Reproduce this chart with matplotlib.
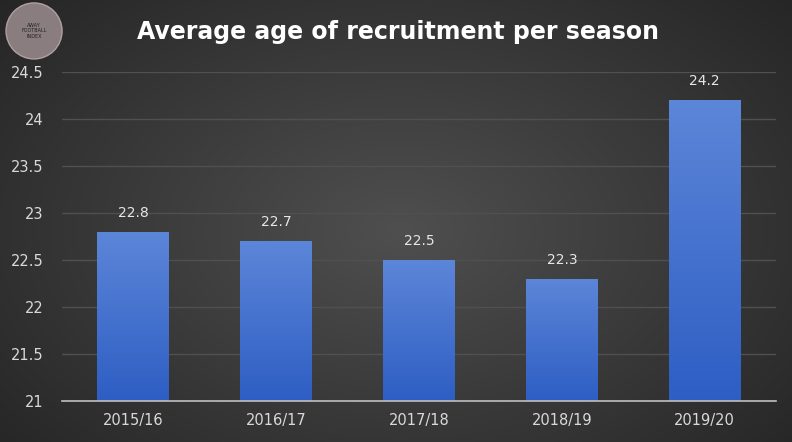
import numpy as np
import matplotlib.pyplot as plt
from matplotlib.patches import Ellipse

seasons = ['2015/16', '2016/17', '2017/18', '2018/19', '2019/20']
avg_age = [22.8, 22.7, 22.5, 22.3, 24.2]

fig = plt.figure(figsize=(7.92, 4.42), dpi=100)

# radial background
bg = fig.add_axes([0, 0, 1, 1], zorder=-10)
yy, xx = np.mgrid[0:442, 0:792]
r = np.sqrt(((xx - 400) / 560.0) ** 2 + ((yy - 230) / 360.0) ** 2)
shade = np.clip(0.31 - 0.17 * r, 0.14, 0.31)
bg.imshow(np.dstack([shade] * 3), aspect='auto', extent=[0, 1, 0, 1])
bg.axis('off')

# logo placeholder
logo = Ellipse((0.043, 0.93), 56 / 792, 56 / 442, transform=fig.transFigure,
               facecolor='#8a7d80', edgecolor='#b0a0a0', lw=1)
fig.patches.append(logo)
fig.text(0.043, 0.93, 'AWAY\nFOOTBALL\nINDEX', ha='center', va='center', fontsize=3.5,
         color='#222222', linespacing=1.1)

ax = fig.add_axes([0.078, 0.093, 0.902, 0.744])
ax.set_facecolor('none')
x = np.arange(len(seasons))
bars = ax.bar(x, avg_age, width=0.5, bottom=0, color='#4472c4', zorder=2)

# vertical gradient on bars
grad = np.linspace(0, 1, 256).reshape(-1, 1)
top = np.array([0x5c, 0x86, 0xd8]) / 255
bot = np.array([0x2e, 0x5e, 0xc4]) / 255
img = grad[..., None] * bot + (1 - grad[..., None]) * top
for b in bars:
    im = ax.imshow(img, extent=[b.get_x(), b.get_x() + b.get_width(), 21, b.get_height()],
                   aspect='auto', zorder=3, origin='upper')
    im.set_clip_path(b)
ax.set_aspect('auto')
ax.set_xlim(-0.5, len(seasons) - 0.5)
ax.set_ylim(21, 24.5)

for xi, v in zip(x, avg_age):
    ax.text(xi, v + 0.13, f'{v}', ha='center', va='bottom', color='#e6e6e6', fontsize=10)

ax.set_yticks(np.arange(21, 24.51, 0.5))
ax.set_yticklabels(['21', '21.5', '22', '22.5', '23', '23.5', '24', '24.5'])
ax.set_xticks(x)
ax.set_xticklabels(seasons)
ax.tick_params(colors='#d9d9d9', labelsize=10.5, length=0)
ax.tick_params(axis='x', pad=9)
ax.tick_params(axis='y', pad=13)
ax.grid(axis='y', color='#505050', lw=1, zorder=0)
for s in ['top', 'right', 'left']:
    ax.spines[s].set_visible(False)
ax.spines['bottom'].set_color('#bfbfbf')
ax.spines['bottom'].set_linewidth(1.2)
ax.spines['bottom'].set_zorder(4)

fig.text(0.502, 0.928, 'Average age of recruitment per season', ha='center', va='center',
         color='white', fontsize=17, fontweight='bold', family='DejaVu Sans')

fig.savefig('out.png', dpi=100)
